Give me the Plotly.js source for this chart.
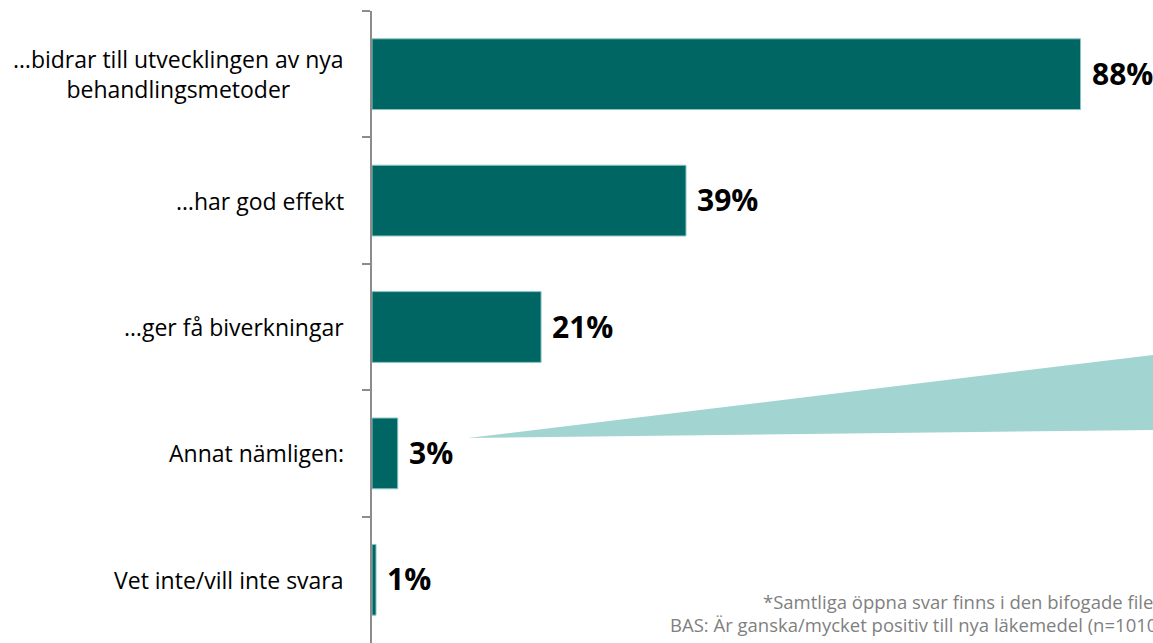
<!DOCTYPE html>
<html>
<head>
<meta charset="utf-8">
<script src="https://cdn.plot.ly/plotly-3.0.1.min.js"></script>
<style>html,body{margin:0;padding:0;background:#fff;}#chart{width:1153px;height:643px;}</style>
</head>
<body>
<div id="chart"></div>
<script>
const categories = [
  "…bidrar till utvecklingen av nya<br>behandlingsmetoder",
  "…har god effekt",
  "…ger få biverkningar",
  "Annat nämligen:",
  "Vet inte/vill inte svara"
];
const values = [88, 39, 21, 3.2, 0.5];
const valueLabels = ["88%", "39%", "21%", "3%", "1%"];
const footnotes = [
  "*Samtliga öppna svar finns i den bifogade filen",
  "BAS: Är ganska/mycket positiv till nya läkemedel (n=1010)"
];

const FONT = "'Open Sans', sans-serif";

const trace = {
  type: "bar",
  orientation: "h",
  x: values,
  y: categories,
  marker: { color: "#006663", line: { color: "#8cc6c3", width: 1 } },
  hoverinfo: "skip",
  cliponaxis: false
};

const annotations = [];
categories.forEach((c, i) => {
  annotations.push({
    xref: "paper", yref: "y", x: 0, y: c,
    xanchor: "right", yanchor: "middle", xshift: -26,
    text: c, showarrow: false, align: "center",
    font: { family: FONT, size: 23, color: "#000" }
  });
  annotations.push({
    xref: "x", yref: "y", x: values[i], y: c,
    xanchor: "left", yanchor: "middle", xshift: 9, yshift: 1,
    text: "<b>" + valueLabels[i] + "</b>", showarrow: false,
    font: { family: FONT, size: 30, color: "#000" }
  });
});
annotations.push({
  xref: "paper", yref: "paper", x: (761 - 372) / 781, y: (643 - 601) / 632,
  xanchor: "left", yanchor: "middle", text: footnotes[0], showarrow: false,
  font: { family: FONT, size: 18.5, color: "#7f7f7f" }
});
annotations.push({
  xref: "paper", yref: "paper", x: (668 - 372) / 781, y: (643 - 624) / 632,
  xanchor: "left", yanchor: "middle", text: footnotes[1], showarrow: false,
  font: { family: FONT, size: 18.5, color: "#7f7f7f" }
});

// callout wedge (decorative), in paper coordinates
function px(xp) { return (xp - 372) / 781; }
function py(yp) { return (643 - yp) / 632; }
const wedge = "M " + px(468) + " " + py(438) + " L " + px(1153) + " " + py(355) +
              " L " + px(1153) + " " + py(430) + " Z";

const layout = {
  width: 1153, height: 643,
  margin: { l: 372, r: 0, t: 11, b: 0, pad: 0 },
  paper_bgcolor: "#fff", plot_bgcolor: "#fff",
  showlegend: false,
  bargap: 0.44,
  xaxis: { range: [0, 97], visible: false, fixedrange: true },
  yaxis: {
    type: "category", autorange: "reversed",
    showticklabels: false,
    showline: true, linecolor: "#8c8c8c", linewidth: 2,
    ticks: "outside", tickson: "boundaries", ticklen: 8, tickwidth: 2, tickcolor: "#8c8c8c",
    showgrid: false, zeroline: false, fixedrange: true
  },
  shapes: [{
    type: "path", xref: "paper", yref: "paper", path: wedge,
    fillcolor: "#a2d4d2", line: { width: 0 }, layer: "below"
  }],
  annotations: annotations
};

Plotly.newPlot("chart", [trace], layout, { displayModeBar: false, staticPlot: true });
</script>
</body>
</html>
